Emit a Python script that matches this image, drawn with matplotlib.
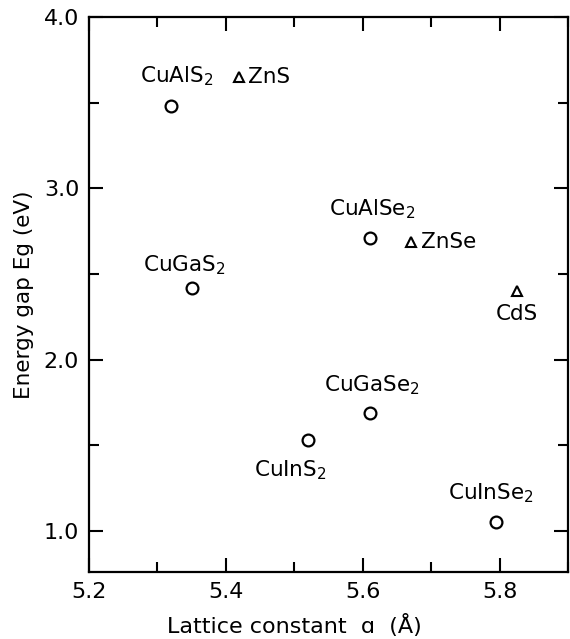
import matplotlib
matplotlib.use("Agg")
import matplotlib.pyplot as plt
from matplotlib.ticker import MultipleLocator, FixedLocator

# Data
chalco_names = ["CuAlS$_2$", "CuGaS$_2$", "CuAlSe$_2$", "CuGaSe$_2$", "CuInS$_2$", "CuInSe$_2$"]
chalco_a = [5.32, 5.35, 5.61, 5.61, 5.52, 5.795]
chalco_eg = [3.48, 2.42, 2.71, 1.69, 1.53, 1.05]

ii_vi_names = ["ZnS", "ZnSe", "CdS"]
ii_vi_a = [5.42, 5.67, 5.825]
ii_vi_eg = [3.65, 2.69, 2.40]

xticks_major = [5.2, 5.4, 5.6, 5.8]
yticks_major = [1.0, 2.0, 3.0, 4.0]

fig = plt.figure(figsize=(5.70, 6.39), dpi=100)
ax = fig.add_axes([0.156, 0.105, 0.8405, 0.868])

ax.plot(chalco_a, chalco_eg, linestyle="none", marker="o", markersize=8.5,
        markerfacecolor="white", markeredgecolor="black", markeredgewidth=1.6)
ax.plot(ii_vi_a, ii_vi_eg, linestyle="none", marker="^", markersize=7.5,
        markerfacecolor="white", markeredgecolor="black", markeredgewidth=1.5)

fs = 15.5
# label offsets in points (dx, dy) and alignment
chalco_offsets = {
    "CuAlS$_2$": (4.3, 21.5, "center", "center"),
    "CuGaS$_2$": (-5, 16, "center", "center"),
    "CuAlSe$_2$": (2, 21, "center", "center"),
    "CuGaSe$_2$": (1.5, 20, "center", "center"),
    "CuInS$_2$": (-13, -21.5, "center", "center"),
    "CuInSe$_2$": (-3.6, 21, "center", "center"),
}
for n, x, y in zip(chalco_names, chalco_a, chalco_eg):
    dx, dy, ha, va = chalco_offsets[n]
    ax.annotate(n, (x, y), xytext=(dx, dy), textcoords="offset points",
                ha=ha, va=va, fontsize=fs)

ii_vi_offsets = {
    "ZnS": (6, 0, "left", "center"),
    "ZnSe": (7.5, 0, "left", "center"),
    "CdS": (0, -16.5, "center", "center"),
}
for n, x, y in zip(ii_vi_names, ii_vi_a, ii_vi_eg):
    dx, dy, ha, va = ii_vi_offsets[n]
    ax.annotate(n, (x, y), xytext=(dx, dy), textcoords="offset points",
                ha=ha, va=va, fontsize=fs)

ax.set_xlim(5.2, 5.9)
ax.set_ylim(0.76, 4.0)
ax.xaxis.set_major_locator(FixedLocator(xticks_major))
ax.yaxis.set_major_locator(FixedLocator(yticks_major))
ax.xaxis.set_minor_locator(MultipleLocator(0.1))
ax.yaxis.set_minor_locator(MultipleLocator(0.5))
ax.set_xticklabels([f"{v:.1f}" for v in xticks_major])
ax.set_yticklabels([f"{v:.1f}" for v in yticks_major])

ax.tick_params(which="both", direction="in", top=True, right=True, width=1.5,
               labelsize=16)
ax.tick_params(which="major", length=10, pad=7)
ax.tick_params(which="minor", length=7)
for s in ax.spines.values():
    s.set_linewidth(1.6)

ax.set_xlabel("Lattice constant  ɑ  (Å)", fontsize=16, labelpad=9)
ax.xaxis.label.set_x(0.428)
ax.set_ylabel("Energy gap Eg (eV)", fontsize=15.5, labelpad=7)

fig.savefig("out.png", dpi=100)
